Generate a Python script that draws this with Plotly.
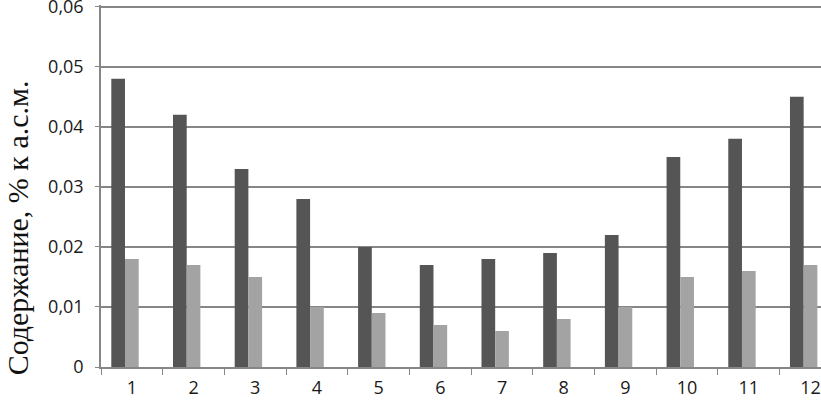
import plotly.graph_objects as go

categories = ["1", "2", "3", "4", "5", "6", "7", "8", "9", "10", "11", "12"]
series_dark = [0.048, 0.042, 0.033, 0.028, 0.020, 0.017, 0.018, 0.019, 0.022, 0.035, 0.038, 0.045]
series_light = [0.018, 0.017, 0.015, 0.010, 0.009, 0.007, 0.006, 0.008, 0.010, 0.015, 0.016, 0.017]
y_tickvals = [0, 0.01, 0.02, 0.03, 0.04, 0.05, 0.06]
y_ticktext = ["0", "0,01", "0,02", "0,03", "0,04", "0,05", "0,06"]
y_title = "Содержание, % к а.с.м."

bar_w = 0.222

fig = go.Figure()
fig.add_trace(go.Bar(x=categories, y=series_dark, marker=dict(color="#555555", line=dict(width=0)),
                     width=bar_w, offset=-1.5 * bar_w, showlegend=False))
fig.add_trace(go.Bar(x=categories, y=series_light, marker=dict(color="#a3a3a3", line=dict(width=0)),
                     width=bar_w, offset=-0.5 * bar_w, showlegend=False))

fig.update_layout(
    width=821, height=400,
    margin=dict(l=101, r=0, t=5, b=33),
    plot_bgcolor="white", paper_bgcolor="white",
    font=dict(family="Open Sans, Liberation Sans, sans-serif", size=18, color="#1a1a1a"),
    barmode="overlay",
)
fig.update_xaxes(
    type="category", range=[-0.5, 11.17], automargin=False,
    showline=True, linecolor="#868686", linewidth=1.5,
    ticks="outside", tickson="boundaries", ticklen=6, tickcolor="#868686",
    showgrid=False, tickfont=dict(size=18), ticklabelstandoff=4,
)
fig.update_yaxes(
    range=[0, 0.0603], tickvals=y_tickvals, ticktext=y_ticktext, automargin=False,
    showline=True, linecolor="#868686", linewidth=1.5,
    ticks="outside", ticklen=4, tickcolor="#868686",
    showgrid=True, gridcolor="#868686", gridwidth=1.5,
    zeroline=False, tickfont=dict(size=18), ticklabelstandoff=8,
    ticklabeloverflow="allow",
)
fig.add_annotation(
    text=y_title, xref="paper", yref="paper", x=0, y=0.383,
    xanchor="center", yanchor="middle", xshift=-84, textangle=-90,
    showarrow=False, font=dict(family="Liberation Serif, Times New Roman, serif", size=30, color="#111111"),
)

fig.write_html("out.html", config={"displayModeBar": False},
               post_script="document.body.style.margin='0';document.body.style.overflow='hidden';")
